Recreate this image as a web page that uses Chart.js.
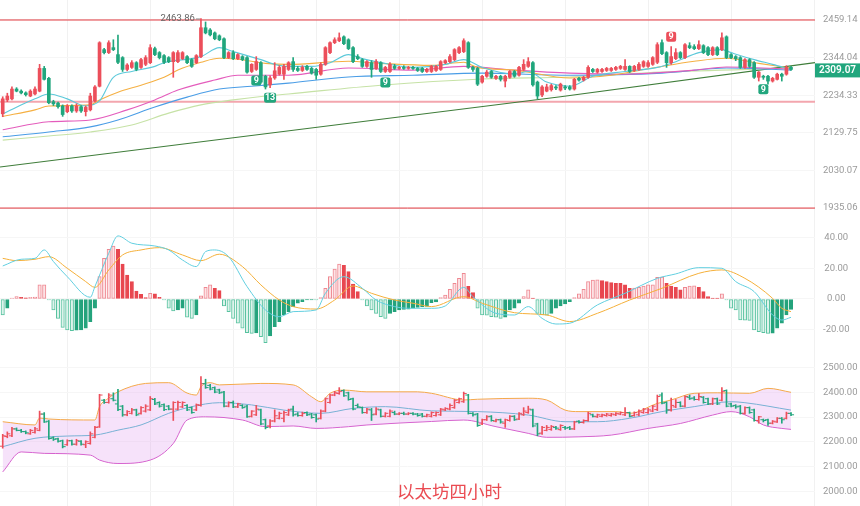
<!DOCTYPE html>
<html>
<head>
<meta charset="utf-8">
<script src="https://cdn.jsdelivr.net/npm/chart.js@4.4.1/dist/chart.umd.min.js"></script>
<style>
html, body { margin: 0; padding: 0; background: #fff; }
#wrap { position: relative; width: 860px; height: 506px; overflow: hidden; }
canvas { position: absolute; left: 0; }
#title { position: absolute; left: 397px; top: 478px; font: 17.5px "Noto Sans CJK SC", sans-serif; color: #ea4b52; white-space: nowrap; }
</style>
</head>
<body>
<div id="wrap">
  <canvas id="main" width="860" height="222" style="top:0"></canvas>
  <canvas id="macd" width="860" height="133" style="top:222px"></canvas>
  <canvas id="boll" width="860" height="151" style="top:355px"></canvas>
  <div id="title">以太坊四小时</div>
</div>
<script>
// 4h candles, oldest first
const opens = [2182,2221,2224,2252,2246,2241,2232,2238,2246,2312, 2283,2216,2212,2204,2188,2204,2190,2202,2188,2193,
  2218,2260,2368,2359,2374,2353,2344,2309,2315,2329, 2315,2324,2329,2371,2359,2350,2344,2332,2332,2341,
  2347,2338,2329,2347,2435,2428,2419,2410,2401,2344, 2359,2341,2347,2344,2303,2309,2329,2289,2264,2284,
  2295,2295,2309,2332,2312,2306,2318,2312,2309,2295, 2324,2359,2389,2395,2407,2398,2374,2347,2338,2318,
  2329,2312,2329,2303,2303,2318,2312,2315,2312,2315, 2312,2312,2303,2303,2306,2309,2329,2332,2338,2359,
  2362,2389,2315,2312,2272,2289,2303,2283,2289,2275, 2286,2303,2292,2309,2318,2329,2272,2235,2246,2250,
  2258,2249,2258,2258,2252,2283,2278,2286,2309,2301, 2303,2306,2306,2309,2312,2309,2318,2306,2309,2318,
  2318,2324,2330,2389,2359,2329,2341,2359,2344,2380, 2377,2371,2380,2374,2353,2374,2368,2407,2353,2347,
  2344,2315,2338,2329,2286,2289,2289,2275,2280,2295, 2295,2315];
const highs = [2230,2240,2258,2256,2250,2244,2250,2258,2324,2318, 2286,2220,2215,2207,2208,2207,2210,2205,2204,2240,
  2262,2392,2372,2395,2398,2412,2347,2326,2335,2332, 2342,2350,2383,2376,2362,2353,2347,2362,2365,2362,
  2350,2341,2353,2463.86,2453,2432,2422,2413,2404,2362, 2365,2356,2350,2347,2326,2347,2332,2292,2290,2329,
  2320,2324,2332,2344,2318,2320,2321,2315,2312,2329, 2377,2392,2404,2419,2410,2401,2377,2353,2341,2335,
  2335,2338,2332,2318,2329,2324,2318,2320,2318,2318, 2315,2315,2312,2321,2321,2335,2338,2353,2371,2377,
  2401,2392,2318,2315,2292,2306,2306,2292,2292,2292, 2306,2306,2318,2338,2344,2332,2275,2262,2266,2266,
  2262,2269,2262,2262,2283,2286,2289,2320,2312,2312, 2312,2315,2315,2318,2321,2338,2320,2321,2329,2335,
  2335,2347,2389,2398,2362,2377,2371,2362,2386,2389, 2383,2395,2383,2377,2377,2377,2419,2410,2356,2350,
  2347,2341,2341,2332,2303,2292,2292,2286,2298,2298, 2320,2318];
const lows = [2174,2216,2221,2244,2238,2232,2230,2235,2244,2278, 2210,2205,2198,2175,2185,2186,2186,2186,2176,2190,
  2215,2258,2355,2356,2365,2326,2303,2305,2312,2305, 2312,2320,2326,2350,2340,2326,2329,2286,2329,2338,
  2326,2315,2326,2344,2416,2410,2398,2395,2341,2341, 2338,2338,2335,2298,2300,2306,2269,2252,2256,2280,
  2292,2280,2306,2303,2303,2303,2306,2295,2280,2292, 2321,2356,2386,2392,2383,2368,2329,2338,2315,2315,
  2286,2309,2300,2300,2300,2309,2309,2309,2309,2309, 2303,2300,2300,2300,2303,2306,2326,2329,2335,2356,
  2359,2312,2303,2262,2269,2286,2283,2280,2275,2258, 2283,2286,2289,2306,2315,2260,2224,2230,2244,2246,
  2250,2246,2250,2249,2249,2275,2275,2283,2300,2298, 2300,2303,2303,2306,2309,2306,2300,2303,2306,2315,
  2315,2321,2326,2353,2315,2324,2338,2341,2341,2371, 2368,2368,2356,2350,2350,2350,2365,2341,2341,2335,
  2312,2312,2315,2283,2275,2280,2266,2272,2278,2275, 2292,2306];
const closes = [2224,2232,2252,2246,2241,2236,2246,2252,2312,2280, 2213,2210,2202,2180,2204,2190,2204,2190,2200,2232,
  2258,2389,2359,2389,2368,2330,2309,2322,2329,2309, 2338,2344,2374,2353,2344,2330,2332,2359,2359,2359,
  2329,2318,2350,2435,2419,2413,2401,2398,2344,2359, 2341,2353,2338,2301,2324,2332,2272,2258,2284,2305,
  2315,2318,2329,2309,2306,2315,2309,2298,2292,2324, 2374,2389,2398,2404,2386,2371,2332,2341,2318,2332,
  2309,2332,2303,2315,2324,2312,2315,2312,2315,2312, 2306,2303,2309,2318,2318,2332,2335,2347,2368,2374,
  2395,2315,2309,2266,2289,2301,2286,2289,2280,2289, 2303,2289,2315,2324,2332,2264,2232,2258,2258,2262,
  2255,2266,2255,2252,2280,2278,2286,2315,2303,2309, 2309,2312,2312,2315,2318,2318,2303,2318,2324,2332,
  2329,2344,2383,2356,2329,2347,2359,2344,2383,2374, 2371,2383,2359,2353,2374,2353,2404,2344,2344,2341,
  2315,2338,2318,2286,2301,2286,2275,2283,2295,2289, 2315,2309.07];

// moving averages: [candle index, price]
const maFast = [[0,2182],[7,2224],[10,2238],[14,2224],[18,2204],[21,2218],[24,2286],[28,2303],[33,2318],[35,2329],[43,2347],[47,2374],[50,2362],[56,2338],[59,2324],[62,2318],[67,2318],[71,2329],[75,2353],[78,2341],[82,2329],[89,2315],[96,2324],[100,2338],[104,2315],[111,2295],[114,2303],[118,2272],[123,2260],[128,2289],[135,2303],[142,2315],[146,2332],[151,2359],[156,2368],[158,2359],[163,2338],[167,2324],[171,2309]];
const maMid = [[0,2175],[7,2193],[10,2204],[19,2207],[21,2221],[25,2243],[30,2263],[35,2286],[38,2307],[43,2330],[47,2342],[51,2339],[57,2327],[62,2324],[75,2333],[82,2327],[93,2321],[100,2330],[103,2315],[111,2307],[123,2284],[132,2292],[141,2313],[150,2333],[157,2342],[164,2327],[171,2313]];
const maPink = [[0,2138],[10,2160],[19,2165],[27,2193],[33,2221],[38,2249],[46,2278],[51,2292],[62,2292],[75,2313],[89,2307],[100,2318],[111,2307],[123,2298],[135,2295],[150,2307],[157,2316],[171,2310]];
const maBlue = [[0,2119],[10,2132],[19,2146],[25,2165],[33,2201],[40,2229],[47,2252],[54,2260],[62,2269],[75,2287],[89,2292],[104,2298],[123,2292],[143,2298],[157,2313],[171,2307]];
const maSlow = [[0,2110],[10,2121],[19,2132],[28,2151],[36,2184],[43,2207],[50,2221],[57,2232],[62,2238],[82,2263],[104,2281],[123,2287],[143,2301],[171,2313]];
const trendLine = [[-0.59,2039],[121,2230],[176.2,2329]];
const levels = [2459.14, 2216, 1935.06];
const mainTicks = [1935.06, 2030.07, 2129.75, 2234.33, 2344.04, 2459.14];

// TD sequential marks
const tdIdx = [55, 58, 83, 145, 165];
const tdText = ['9', '13', '9', '9', '9'];
const tdAbove = [false, false, false, true, false];

// MACD
const macdHist = [-10.5,-6.1,0.5,1.5,1.0,0.7,1.0,1.2,9.2,9.2, -0.7,-7.2,-12.7,-18.6,-20.3,-20.7,-20.5,-20.3,-19.2,-14.8,
  -6.1,14.6,26.6,32.5,34.7,32.5,22.9,15.7,11.4,5.2, 3.1,0.9,3.7,3.3,1.1,-0.7,-6.1,-7.9,-7.2,-6.0,
  -12.0,-12.7,-10.5,2.0,7.6,9.2,7.0,5.5,-4.6,-8.3, -12.7,-15.9,-19.2,-22.0,-22.5,-22.3,-24.7,-28.6,-24.2,-18.1,
  -14.8,-10.5,-8.3,-5.0,-2.8,-1.7,-0.7,-0.3,-0.7,0.9, 7.0,14.6,19.6,22.9,22.0,17.9,9.8,4.8,-0.7,-4.6,
  -7.2,-9.4,-11.6,-12.7,-9.4,-8.3,-7.2,-6.8,-6.7,-6.1, -5.5,-5.0,-4.9,-2.4,-2.0,0.9,2.6,6.3,10.3,13.5,
  16.8,8.3,4.1,-6.1,-10.5,-10.6,-11.6,-12.0,-12.7,-12.0, -7.2,-6.1,-2.8,1.5,5.9,0.4,-9.4,-10.5,-10.6,-9.4,
  -6.1,-4.6,-3.3,-1.7,0.9,3.3,6.3,11.4,12.4,12.5, 12.0,11.4,10.7,10.3,10.2,9.2,7.0,7.2,7.6,8.5,
  9.2,9.3,14.2,14.3,10.3,8.5,7.6,5.9,7.6,8.5, 8.6,7.6,4.8,1.5,0.4,0.3,3.3,-0.7,-6.1,-7.2,
  -13.8,-13.9,-14.0,-20.3,-21.4,-22.1,-22.5,-22.4,-19.2,-15.9, -10.5,-6.8];
const macdDif = [[0,21.6],[4,26],[7,26.6],[9,32.1],[11,24.5],[14,14.6],[19,1.1],[20,8.1],[23,29.9],[25,41.3],[28,36.5],[33,34.7],[36,32.1],[39,25.5],[42,21.2],[44,31],[46,32.1],[49,27.7],[53,8.1],[57,-7.2],[60,-11.6],[63,-8.3],[68,-7.2],[70,3.7],[74,14.6],[78,7],[81,-0.7],[85,-5],[88,-6.1],[93,-6.1],[96,-4.6],[100,7.6],[102,1.5],[107,-9.4],[111,-10.5],[114,-5],[117,-12.7],[120,-16.4],[123,-15.9],[129,-3.9],[135,3.7],[142,13.5],[146,16.4],[151,20.5],[156,20.1],[159,11.4],[163,4.8],[167,-10.5],[169,-13.8],[171,-12]];
const macdDea = [[0,26.6],[3,25.1],[7,26],[10,27.7],[14,20.1],[18,11.4],[20,7.6],[23,19],[26,28.8],[30,32.1],[34,33.6],[39,28.8],[43,25.1],[47,29.3],[52,21.2],[56,9.2],[60,-0.7],[63,-5],[68,-6.6],[72,-0.7],[76,8.5],[80,3.7],[85,-0.7],[89,-2.8],[93,-5],[100,1.5],[104,-2.8],[111,-9],[118,-10.5],[123,-14.8],[129,-9.4],[136,-0.7],[143,7],[151,16.8],[156,19],[161,13.5],[167,0.4],[169,-6.1],[171,-8.3]];
const macdTicks = [-20, 0, 20, 40];

// Bollinger bands
const bollUpper = [[0,2281],[7,2268],[8,2296],[10,2292],[20,2288],[21,2342],[23,2377],[25,2402],[31,2436],[36,2439],[40,2397],[42,2389],[43,2423],[45,2439],[47,2430],[56,2436],[63,2430],[67,2382],[69,2362],[71,2396],[74,2409],[79,2402],[90,2402],[93,2396],[100,2369],[103,2372],[114,2376],[118,2369],[122,2328],[125,2322],[133,2322],[136,2315],[142,2355],[145,2369],[150,2396],[155,2398],[162,2396],[166,2416],[171,2400]];
const bollMid = [[0,2180],[7,2214],[14,2223],[20,2227],[25,2247],[30,2268],[36,2315],[41,2342],[47,2358],[54,2349],[61,2328],[69,2315],[76,2335],[83,2342],[93,2325],[103,2322],[114,2308],[122,2281],[129,2281],[136,2295],[143,2322],[150,2342],[158,2362],[161,2358],[171,2328]];
const bollLower = [[0,2078],[4,2159],[9,2153],[19,2146],[21,2126],[25,2112],[32,2126],[37,2193],[40,2288],[44,2301],[52,2288],[57,2261],[63,2264],[68,2254],[75,2261],[79,2268],[93,2282],[100,2288],[107,2261],[114,2234],[118,2218],[125,2220],[132,2227],[140,2254],[147,2274],[154,2308],[158,2322],[162,2301],[165,2268],[169,2254],[171,2250]];
const bollTicks = [2000, 2100, 2200, 2300, 2400, 2500];

const UP = '#ec4f5b';
const DOWN = '#21a67d';
const xMin = -0.59, xMax = 176.2;

Chart.defaults.font.family = 'Roboto, "Noto Sans", sans-serif';

const idx = opens.map((_, i) => i);
const candleColor = idx.map(i => closes[i] >= opens[i] ? UP : DOWN);
const pts = pairs => pairs.map(([x, y]) => ({ x, y }));

function lineSet(pairs, color, width, order, extra) {
  return Object.assign({
    type: 'line', data: pts(pairs), borderColor: color, borderWidth: width,
    pointRadius: 0, cubicInterpolationMode: 'monotone', fill: false, order
  }, extra || {});
}

function xAxis() {
  return {
    type: 'linear', min: xMin, max: xMax, offset: false,
    grid: { color: '#f1f1f1', drawTicks: false, offset: false },
    border: { display: false },
    ticks: { display: false },
    afterBuildTicks: s => { s.ticks = []; for (let v = 14; v < xMax; v += 18) s.ticks.push({ value: v }); },
    afterFit: s => { s.height = 0; s.paddingLeft = 0; s.paddingRight = 0; }
  };
}

function yAxis(extra, tickVals) {
  return Object.assign({
    position: 'right',
    grid: { color: '#f6f6f6', drawTicks: false },
    border: { display: false },
    ticks: { color: '#9a9a9a', font: { size: 9.5 }, padding: 8, crossAlign: 'center', autoSkip: false,
      callback: v => Number(v).toFixed(2) },
    afterBuildTicks: s => { s.ticks = tickVals.map(v => ({ value: v })); },
    afterFit: s => { s.width = 45; s.paddingTop = 0; s.paddingBottom = 0; }
  }, extra);
}

function baseOptions(yOpts, plugins) {
  return {
    responsive: false, animation: false, events: [],
    layout: { padding: 0, autoPadding: false },
    plugins: Object.assign({ legend: { display: false }, tooltip: { enabled: false } }, plugins || {}),
    scales: { x: xAxis(), y: yOpts }
  };
}

// marks, peak label and last price tag on the main panel
const mainMarks = {
  id: 'mainMarks',
  afterDatasetsDraw(chart) {
    const { ctx } = chart;
    const x = chart.scales.x, y = chart.scales.y;
    ctx.save();
    tdIdx.forEach((i, k) => {
      const px = x.getPixelForValue(i);
      const w = tdText[k].length > 1 ? 12 : 10, h = 10;
      const cy = tdAbove[k] ? y.getPixelForValue(highs[i]) - 5 - h / 2 : y.getPixelForValue(lows[i]) + 5 + h / 2;
      ctx.fillStyle = tdAbove[k] ? UP : DOWN;
      ctx.beginPath();
      ctx.roundRect(px - w / 2, cy - h / 2, w, h, 2);
      ctx.fill();
      ctx.fillStyle = '#fff';
      ctx.font = 'bold 9px Roboto';
      ctx.textAlign = 'center';
      ctx.textBaseline = 'middle';
      ctx.fillText(tdText[k], px, cy + 0.5);
    });
    let top = 0;
    highs.forEach((v, i) => { if (v > highs[top]) top = i; });
    const tx = x.getPixelForValue(top), ty = y.getPixelForValue(highs[top]);
    ctx.strokeStyle = '#888';
    ctx.lineWidth = 1;
    ctx.beginPath();
    ctx.moveTo(tx - 5, ty + 0.5);
    ctx.lineTo(tx - 1, ty + 0.5);
    ctx.stroke();
    ctx.fillStyle = '#666';
    ctx.font = '9.5px Roboto';
    ctx.textAlign = 'right';
    ctx.textBaseline = 'middle';
    ctx.fillText(highs[top].toFixed(2), tx - 6, ty);
    ctx.restore();
  },
  afterDraw(chart) {
    const { ctx, chartArea } = chart;
    const last = closes[closes.length - 1];
    const py = chart.scales.y.getPixelForValue(last);
    ctx.save();
    ctx.fillStyle = DOWN;
    ctx.fillRect(chartArea.right, py - 6, chart.width - chartArea.right, 14);
    ctx.fillStyle = '#fff';
    ctx.font = '600 10px Roboto';
    ctx.textAlign = 'center';
    ctx.textBaseline = 'middle';
    ctx.fillText(last.toFixed(2), (chartArea.right + chart.width) / 2, py + 1);
    ctx.restore();
  }
};

new Chart(document.getElementById('main'), {
  type: 'bar',
  data: {
    datasets: [
      { type: 'bar', data: idx.map(i => ({ x: i, y: [lows[i], highs[i]] })), backgroundColor: candleColor,
        barThickness: 1, grouped: false, order: 0 },
      { type: 'bar', data: idx.map(i => ({ x: i, y: [opens[i], closes[i]] })), backgroundColor: candleColor,
        barThickness: 3, minBarLength: 1, grouped: false, order: 0 },
      lineSet(maFast, '#5cc9da', 1.1, 1),
      lineSet(maMid, '#f5b043', 1.1, 1),
      lineSet(maPink, '#e45cbc', 1.1, 1),
      lineSet(maBlue, '#4a9de6', 1.1, 1),
      lineSet(maSlow, '#c6e2a6', 1.1, 1),
      lineSet(trendLine, '#3f7d3a', 1.2, 2, { cubicInterpolationMode: 'default', tension: 0 }),
      lineSet([[xMin, levels[0]], [xMax, levels[0]]], '#e0363d', 1, 3, { tension: 0 }),
      lineSet([[xMin, levels[1]], [xMax, levels[1]]], '#f3a6ae', 2, 3, { tension: 0 }),
      lineSet([[xMin, levels[2]], [xMax, levels[2]]], '#e0363d', 1, 3, { tension: 0 })
    ]
  },
  options: baseOptions(yAxis({ type: 'logarithmic', min: 1901, max: 2522.6 }, mainTicks)),
  plugins: [mainMarks]
});

// MACD histogram: hollow while the bar keeps growing, filled while it shrinks
const histFill = [], histEdge = [];
macdHist.forEach((v, i) => {
  const prev = i > 0 ? macdHist[i - 1] : 0;
  const growing = v >= 0 ? v >= prev : v <= prev;
  if (v >= 0) {
    histFill.push(growing ? '#fde2e5' : '#e8474f');
    histEdge.push(growing ? '#ee8790' : '#e8474f');
  } else {
    histFill.push(growing ? '#ddf3eb' : '#24a37c');
    histEdge.push(growing ? '#57c29f' : '#24a37c');
  }
});

new Chart(document.getElementById('macd'), {
  type: 'bar',
  data: {
    datasets: [
      { type: 'bar', data: idx.map(i => ({ x: i, y: macdHist[i] })), backgroundColor: histFill,
        borderColor: histEdge, borderWidth: 1, borderSkipped: false, barThickness: 3.4,
        minBarLength: 1, grouped: false, order: 1 },
      lineSet(macdDif, '#62cfe0', 1, 0),
      lineSet(macdDea, '#f5b03a', 1, 0)
    ]
  },
  options: baseOptions(yAxis({ type: 'linear', min: -36.7, max: 50.4 }, macdTicks))
});

// Bollinger panel with OHLC bars
new Chart(document.getElementById('boll'), {
  type: 'bar',
  data: {
    datasets: [
      lineSet(bollUpper, '#f4a94a', 1, 1, { fill: '+2', backgroundColor: 'rgba(226,160,238,0.30)' }),
      lineSet(bollMid, '#4bb9c9', 1, 1),
      lineSet(bollLower, '#d45ac9', 1, 1),
      { type: 'bar', data: idx.map(i => ({ x: i, y: [lows[i], highs[i]] })), backgroundColor: candleColor,
        barThickness: 1, grouped: false, order: 0 },
      { type: 'line', showLine: false, data: idx.map(i => ({ x: i - 0.33, y: opens[i] })),
        pointStyle: 'line', pointRadius: 1.5, pointBorderWidth: 1, pointBorderColor: candleColor, order: 0 },
      { type: 'line', showLine: false, data: idx.map(i => ({ x: i + 0.33, y: closes[i] })),
        pointStyle: 'line', pointRadius: 1.5, pointBorderWidth: 1, pointBorderColor: candleColor, order: 0 }
    ]
  },
  options: baseOptions(yAxis({ type: 'linear', min: 1940, max: 2551 }, bollTicks),
    { filler: { propagate: false } })
});
</script>
</body>
</html>
